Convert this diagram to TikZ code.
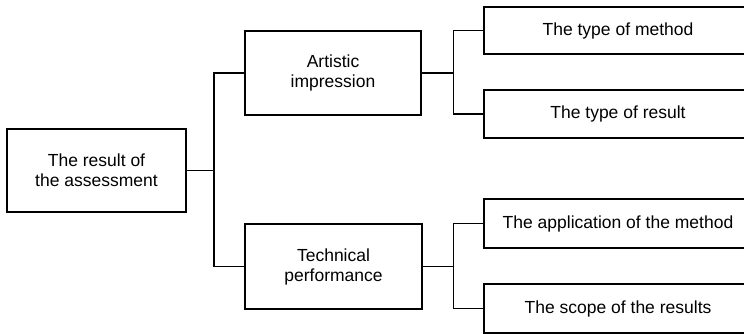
\documentclass[tikz,border=0pt]{standalone}
\usepackage{fontspec}
\setmainfont{Liberation Sans}
\begin{document}
\begin{tikzpicture}[x=1pt,y=-1pt,
  box/.style={draw,line width=1.2pt,inner sep=0pt,align=center,
    font=\fontsize{17.5}{20}\selectfont},
  link/.style={draw,line width=1.2pt}]
\useasboundingbox (0,0) rectangle (744,334);
\clip (0,0) rectangle (744,334);

% tree levels
\node[box,minimum width=179pt,minimum height=83pt] (root) at (96.5,170.5) {The result of\\the assessment};
\node[box,minimum width=176pt,minimum height=84pt] (art) at (333,73) {Artistic\\impression};
\node[box,minimum width=177pt,minimum height=85pt] (tech) at (333.5,266.5) {Technical\\performance};
\node[box,minimum width=268pt,minimum height=47pt] (r1) at (618,30.5) {The type of method};
\node[box,minimum width=268pt,minimum height=48pt] (r2) at (618,114) {The type of result};
\node[box,minimum width=268pt,minimum height=49pt] (r3) at (618,223.5) {The application of the method};
\node[box,minimum width=268pt,minimum height=49pt] (r4) at (618,308.5) {The scope of the results};

% branch points
\coordinate (j1) at (214,170.5);
\coordinate (j2) at (453.5,73);
\coordinate (j3) at (453.5,266.5);

\path[link] (root.east) -- (j1);
\path[link] (art.west) -| (j1);
\path[link] (tech.west) -| (j1);
\path[link] (art.east) -- (j2);
\path[link] (r1.west) -| (j2);
\path[link] (r2.west) -| (j2);
\path[link] (tech.east) -- (j3);
\path[link] (r3.west) -| (j3);
\path[link] (r4.west) -| (j3);
\end{tikzpicture}
\end{document}
